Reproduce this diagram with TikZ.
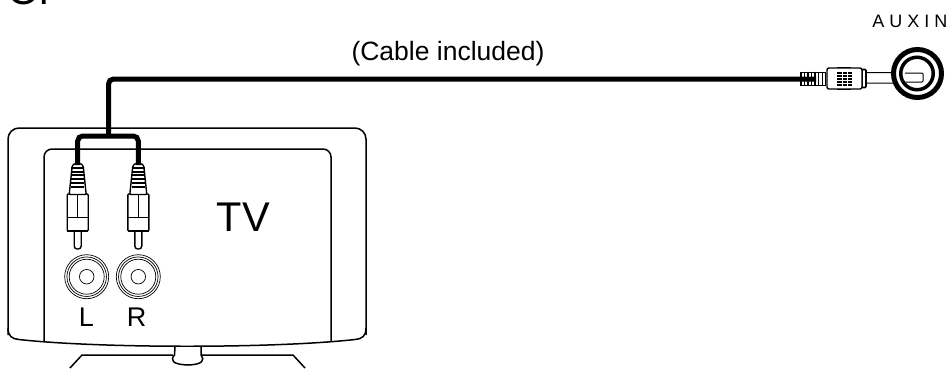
\documentclass[tikz,border=0pt]{standalone}
\usepackage{fontspec}
\setmainfont{Liberation Sans}
\usepackage{tikz}
\usetikzlibrary{positioning, calc}
\tikzset{
  tvline/.style   = {draw=black, line width=1.5pt},
  thinline/.style = {draw=black, line width=1pt},
  cable/.style    = {draw=black, line width=5pt, rounded corners=5pt},
  jackring/.style = {circle, draw=black, line width=0.7pt, inner sep=0pt, fill=white},
  plugline/.style = {draw=black, line width=1.4pt, fill=white, rounded corners=1pt},
  label/.style    = {inner sep=0pt, text=black},
}

\begin{document}
\begin{tikzpicture}[x=1pt, y=-1pt]
    \useasboundingbox (0,0) rectangle (951,368);
    \clip (0,0) rectangle (951,368);

    % ── Heading cut off by the page ─────────────────────────────
    \node[label, font=\fontsize{42}{42}\selectfont, anchor=base west] (orword) at (7,4.5) {Or};

    % ── TV cabinet and stand ────────────────────────────────────
    \draw[tvline, rounded corners=11pt] (8,335) -- (8,128) -- (366,128) -- (366,335);
    \draw[tvline] (19,339.5) .. controls (12,339) and (8,336) .. (8,328);
    \draw[tvline] (355,339.5) .. controls (362,339) and (366,336) .. (366,328);
    \draw[tvline, fill=white] (19,339.5) .. controls (100,348.5) and (274,348.5) .. (355,339.5);
    \draw[tvline, rounded corners=8pt] (44,341.5) -- (44,149) -- (331,149) -- (331,341.5);
    \draw[tvline] (70,368) -- (82,355) -- (173,355);
    \draw[tvline] (202,355) -- (293,355) -- (305,368);
    \draw[tvline, fill=white] (175,347) -- (174.5,355) .. controls (170,360) and (172,364.5) .. (188,365)
      .. controls (203,364.5) and (205,360) .. (201,355) -- (201,347);

    % ── Jacks on the TV ─────────────────────────────────────────
    \foreach \jname/\jx in {jackL/86.7, jackR/138.3} {
      \node[jackring, minimum size=44pt] (\jname) at (\jx,276.7) {};
      \node[jackring, minimum size=39.5pt] at (\jx,276.7) {};
      \node[jackring, minimum size=35pt] at (\jx,276.7) {};
      \node[jackring, minimum size=14.5pt] at (\jx,276.7) {};
    }
    \node[label, font=\fontsize{27}{27}\selectfont, anchor=base] (txtL) at (86.5,326) {L};
    \node[label, font=\fontsize{27}{27}\selectfont, anchor=base] (txtR) at (136.5,326) {R};
    \node[label, font=\fontsize{41.5}{41.5}\selectfont, anchor=base] (txtTV) at (243.5,231) {TV};

    % ── RCA plugs ───────────────────────────────────────────────
    \foreach \pname/\px in {plugL/77.7, plugR/138.3} {
      \draw[plugline, rounded corners=3pt] ($(\px,231)+(-3.5,0)$) -- ($(\px,249)+(-3.5,0)$) -- ($(\px,249)+(3.5,0)$) -- ($(\px,231)+(3.5,0)$);
      \draw[plugline] ($(\px,194)+(-10.5,0)$) rectangle ($(\px,231)+(10.5,0)$);
      \draw[thinline] (\px,194) -- (\px,217);
      \draw[thinline] ($(\px,217)+(-10.5,0)$) -- ($(\px,217)+(10.5,0)$);
      \draw[draw=black, line width=2.4pt] ($(\px,231)+(-10.5,0)$) -- ($(\px,231)+(10.5,0)$);
      \draw[plugline] ($(\px,194.5)+(-8.5,0)$) -- ($(\px,166)+(-5.5,0)$) -- ($(\px,163.5)+(-3,0)$) -- ($(\px,163.5)+(3,0)$) -- ($(\px,166)+(5.5,0)$) -- ($(\px,194.5)+(8.5,0)$) -- cycle;
      \foreach \ry in {168,171.5,175,179,183,187} {
        \draw[draw=black, line width=2pt] ($(\px,\ry)+(-6.5,0)$) -- ($(\px,\ry)+(6.5,0)$);
      }
      \coordinate (\pname) at (\px,165);
    }

    % ── Mini plug and AUX jack ──────────────────────────────────
    \draw[plugline, line width=1pt] (866,72.5) -- (895,72.5) -- (895,83) -- (866,83) -- cycle;
    \node[jackring, minimum size=48pt, line width=5pt] (auxjack) at (917.5,73.5) {};
    \node[jackring, minimum size=32.5pt, line width=3.5pt] (auxinner) at (917,73.5) {};
    \draw[plugline, line width=1pt] (905,73) -- (923,73) -- (923,82) -- (905,82);
    \draw[plugline, line width=1.6pt] (862,69.5) rectangle (866,87.5);
    \draw[plugline, rounded corners=2pt] (827,68) rectangle (862,89);
    \foreach \gy in {73,76,79,82,84.5} {
      \draw[draw=black, line width=2pt] (837,\gy) -- (852,\gy);
    }
    \foreach \gx in {842,847} {
      \draw[draw=white, line width=0.4pt] (\gx,72) -- (\gx,85.5);
    }
    \draw[draw=black, line width=0.8pt] (837,67.5) -- (851,67.5) (837,89.5) -- (851,89.5);
    \foreach \rx in {801,804.5,808,811.5,815,818.5,822.5,825.5} {
      \draw[draw=black, line width=1.7pt] (\rx,71.5) -- (\rx,85);
    }
    \draw[draw=black, line width=1pt] (800,72) -- (826,72) (800,85) -- (826,85);
    \coordinate (auxplug) at (816,79);

    % ── Cable ───────────────────────────────────────────────────
    \draw[cable] (plugL) |- (138.3,136) -- (plugR);
    \draw[cable] (auxplug) -| (108.5,136);

    \node[label, font=\fontsize{26.5}{26.5}\selectfont, anchor=base] (txtcable) at (448,60.5) {(Cable included)};
    \node[label, font=\fontsize{18}{18}\selectfont, anchor=base east] (txtaux) at (947.5,27) {A\kern5ptU\kern5ptX\kern5ptI\kern5ptN};
\end{tikzpicture}
\end{document}
